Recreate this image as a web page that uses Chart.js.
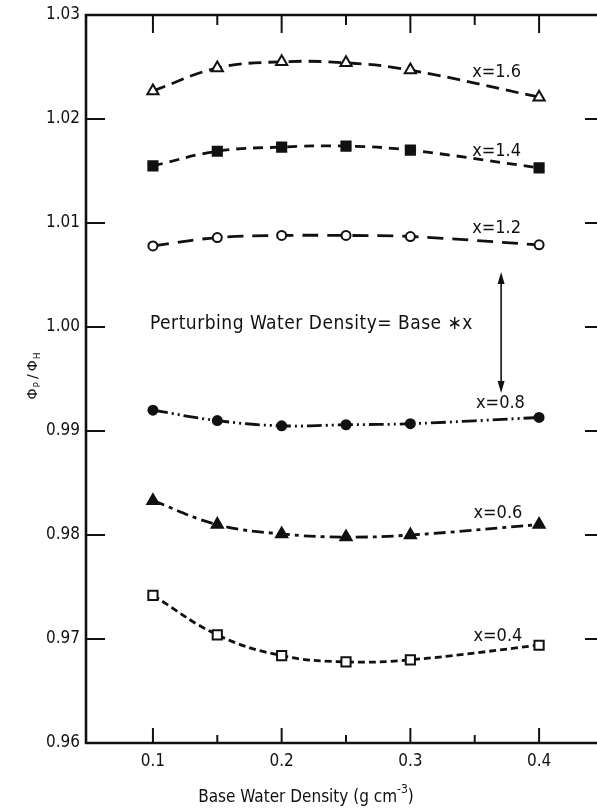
<!DOCTYPE html>
<html><head><meta charset="utf-8">
<script src="https://cdn.jsdelivr.net/npm/chart.js@4/dist/chart.umd.min.js"></script>
<style>html,body{margin:0;padding:0;background:#fff}</style>
</head><body>
<canvas id="c" width="597" height="810"></canvas>
<script>
// ---- data ----
const densities = [0.1, 0.15, 0.2, 0.25, 0.3, 0.4];
const ratio16 = [1.0227, 1.0249, 1.0255, 1.0254, 1.0247, 1.0221];
const ratio14 = [1.0155, 1.0169, 1.0173, 1.0174, 1.0170, 1.0153];
const ratio12 = [1.0078, 1.0086, 1.0088, 1.0088, 1.0087, 1.0079];
const ratio08 = [0.9920, 0.9910, 0.9905, 0.9906, 0.9907, 0.9913];
const ratio06 = [0.9833, 0.9810, 0.9801, 0.9798, 0.9800, 0.9810];
const ratio04 = [0.9742, 0.9704, 0.9684, 0.9678, 0.9680, 0.9694];
const seriesLabels = ['x=1.6', 'x=1.4', 'x=1.2', 'x=0.8', 'x=0.6', 'x=0.4'];
const xMajorTicks = [0.1, 0.2, 0.3, 0.4];
const xMinorTicks = [0.15, 0.25, 0.35];
const yTickValues = [0.96, 0.97, 0.98, 0.99, 1.00, 1.01, 1.02, 1.03];
const noteText = 'Perturbing Water Density= Base \u2217x';
const xTitle = 'Base Water Density (g cm';
const xTitleSup = '-3';

// ---- build ----
const FONT = "'DejaVu Sans Condensed', 'DejaVu Sans', sans-serif";
const INK = '#111';
const toPts = arr => densities.map((d, i) => ({x: d, y: arr[i]}));
function ds(label, arr, style, radius, filled, dash) {
  return {
    label, data: toPts(arr), borderColor: INK, borderWidth: 2.8, borderDash: dash,
    tension: 0.4, fill: false, pointStyle: style, pointRadius: radius,
    pointBackgroundColor: filled ? INK : '#fff', pointBorderColor: INK, pointBorderWidth: 2
  };
}
const datasets = [
  ds(seriesLabels[0], ratio16, 'triangle', 6.5, false, [13, 7]),
  ds(seriesLabels[1], ratio14, 'rect', 6.5, true, [10, 7]),
  ds(seriesLabels[2], ratio12, 'circle', 4.5, false, [16, 9]),
  ds(seriesLabels[3], ratio08, 'circle', 4.5, true, [15, 4, 2, 4, 2, 4]),
  ds(seriesLabels[4], ratio06, 'triangle', 6.5, true, [12, 5, 4, 5]),
  ds(seriesLabels[5], ratio04, 'rect', 6.5, false, [7, 4])
];
// label anchor positions (data coords)
const labelPos = [[0.367, 1.0245], [0.367, 1.0169], [0.367, 1.0095], [0.370, 0.9927], [0.368, 0.9821], [0.368, 0.9703]];

const deco = {
  id: 'deco',
  afterDraw(chart) {
    const {ctx, chartArea: a, scales: {x, y}} = chart;
    ctx.save();
    ctx.strokeStyle = INK; ctx.fillStyle = INK;
    const seg = (x1, y1, x2, y2) => { ctx.beginPath(); ctx.moveTo(x1, y1); ctx.lineTo(x2, y2); ctx.stroke(); };
    ctx.lineWidth = 2.6;
    seg(a.left, a.bottom + 1, a.left, a.top - 1);
    seg(a.left - 1, a.top, a.right + 2, a.top);
    seg(a.left - 1, a.bottom, a.right + 2, a.bottom);
    ctx.lineWidth = 2;
    yTickValues.slice(1, -1).forEach(v => {
      const py = y.getPixelForValue(v);
      seg(a.left, py, a.left + 19, py);
      seg(a.right - 12, py, a.right + 2, py);
    });
    xMajorTicks.forEach(v => {
      const px = x.getPixelForValue(v);
      seg(px, a.bottom, px, a.bottom - 15);
      seg(px, a.top, px, a.top + 18);
    });
    xMinorTicks.forEach(v => {
      const px = x.getPixelForValue(v);
      seg(px, a.bottom, px, a.bottom - 8);
      seg(px, a.top, px, a.top + 10);
    });
    // series labels
    ctx.font = '18px ' + FONT;
    ctx.textAlign = 'center'; ctx.textBaseline = 'middle';
    seriesLabels.forEach((t, i) => {
      ctx.fillText(t, x.getPixelForValue(labelPos[i][0]), y.getPixelForValue(labelPos[i][1]));
    });
    // note
    ctx.textAlign = 'left';
    ctx.font = '19px ' + FONT;
    try { ctx.letterSpacing = '0.5px'; } catch (e) {}
    ctx.fillText(noteText, x.getPixelForValue(0.0977), y.getPixelForValue(1.0003));
    try { ctx.letterSpacing = '0px'; } catch (e) {}
    // double arrow
    const ax = x.getPixelForValue(0.3705), at = y.getPixelForValue(1.0053), ab = y.getPixelForValue(0.99365);
    ctx.lineWidth = 1.6;
    seg(ax, at + 6, ax, ab - 6);
    ctx.beginPath(); ctx.moveTo(ax, at); ctx.lineTo(ax - 3.5, at + 12); ctx.lineTo(ax + 3.5, at + 12); ctx.closePath(); ctx.fill();
    ctx.beginPath(); ctx.moveTo(ax, ab); ctx.lineTo(ax - 3.5, ab - 12); ctx.lineTo(ax + 3.5, ab - 12); ctx.closePath(); ctx.fill();
    // x title
    ctx.font = '17px ' + FONT;
    ctx.textBaseline = 'alphabetic';
    const w1 = ctx.measureText(xTitle).width;
    ctx.font = '12px ' + FONT;
    const w2 = ctx.measureText(xTitleSup).width;
    ctx.font = '17px ' + FONT;
    const w3 = ctx.measureText(')').width;
    let sx = 306 - (w1 + w2 + w3) / 2;
    const by = 802;
    ctx.fillText(xTitle, sx, by); sx += w1;
    ctx.font = '12px ' + FONT; ctx.fillText(xTitleSup, sx, by - 9); sx += w2;
    ctx.font = '17px ' + FONT; ctx.fillText(')', sx, by);
    // y title (rotated)
    ctx.translate(37, 376);
    ctx.rotate(-Math.PI / 2);
    const parts = [['\u03A6', 14, 0], ['P', 9, 3], ['/', 14, 0], ['\u03A6', 14, 0], ['H', 9, 3]];
    const gaps = [0, 1, 3, 3, 1];
    let tw = 0;
    parts.forEach((p, i) => { ctx.font = p[1] + "px 'DejaVu Sans', sans-serif"; tw += ctx.measureText(p[0]).width + gaps[i]; });
    let tx = -tw / 2;
    parts.forEach((p, i) => { tx += gaps[i]; ctx.font = p[1] + "px 'DejaVu Sans', sans-serif"; ctx.fillText(p[0], tx, p[2]); tx += ctx.measureText(p[0]).width; });
    ctx.restore();
  }
};

const zeroPad = s => { s.paddingLeft = 0; s.paddingRight = 0; };
new Chart(document.getElementById('c'), {
  type: 'line',
  data: {datasets},
  options: {
    responsive: false, animation: false, devicePixelRatio: 1,
    layout: {autoPadding: false, padding: {left: 0, top: 15, right: 0, bottom: 0}},
    plugins: {legend: {display: false}, tooltip: {enabled: false}},
    scales: {
      x: {
        type: 'linear', min: 0.048, max: 0.445,
        grid: {display: false, drawTicks: false}, border: {display: false},
        afterBuildTicks: s => { s.ticks = xMajorTicks.map(v => ({value: v})); },
        afterFit: s => { s.height = 67; zeroPad(s); },
        ticks: {color: INK, font: {family: FONT, size: 17}, padding: 8, callback: v => v.toFixed(1), maxRotation: 0}
      },
      y: {
        type: 'linear', min: 0.96, max: 1.03,
        grid: {display: false, drawTicks: false}, border: {display: false},
        afterBuildTicks: s => { s.ticks = yTickValues.map(v => ({value: v})); },
        afterFit: s => { s.width = 86; s.paddingTop = 0; s.paddingBottom = 0; },
        ticks: {color: INK, font: {family: FONT, size: 17}, padding: 6, callback: v => v.toFixed(2)}
      }
    }
  },
  plugins: [deco]
});
</script>
</body></html>
